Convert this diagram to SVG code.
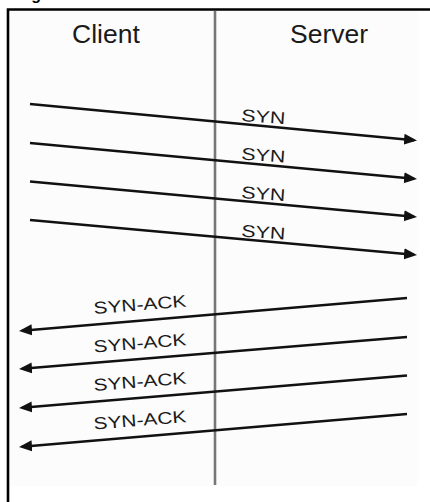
<svg xmlns="http://www.w3.org/2000/svg" width="430" height="502" viewBox="0 0 430 502">
  <style>
    .head { font-family: "Liberation Sans", Arial, sans-serif; font-size: 26.5px; fill: #1a1a1a; }
    .lbl { font-family: "Liberation Sans", Arial, sans-serif; font-size: 17px; fill: #1a1a1a; }
    .title { font-family: "Liberation Sans", Arial, sans-serif; font-size: 16px; font-weight: bold; fill: #000; }
    .msg { stroke: #111; stroke-width: 2.5; fill: none; }
  </style>
  <defs>
    <marker id="ah" markerUnits="userSpaceOnUse" markerWidth="14" markerHeight="12" refX="10" refY="6" orient="auto">
      <path d="M0,0.5 L13,6 L0,11.5 Z" fill="#111"/>
    </marker>
  </defs>
  <rect x="0" y="0" width="430" height="502" fill="#ffffff"/>
  <text class="title" x="17" y="-0.5">Figure</text>
  <rect x="10" y="11" width="408" height="475" fill="#fcfcfc"/>
  <path d="M8,502 V9.5 H430" fill="none" stroke="#000" stroke-width="2.6"/>
  <g id="client">
    <text class="head" x="72" y="43">Client</text>
  </g>
  <g id="server">
    <text class="head" x="290" y="43">Server</text>
  </g>
  <g id="timeline">
    <line x1="215" y1="11" x2="215" y2="485" stroke="#777" stroke-width="2.6"/>
  </g>
  <g id="connectors">
    <line class="msg" x1="30" y1="104" x2="414" y2="140.2" marker-end="url(#ah)"/>
    <line class="msg" x1="30" y1="143" x2="414" y2="178.7" marker-end="url(#ah)"/>
    <line class="msg" x1="30" y1="181.5" x2="414" y2="216.7" marker-end="url(#ah)"/>
    <line class="msg" x1="30" y1="220" x2="414" y2="254.7" marker-end="url(#ah)"/>
    <line class="msg" x1="407" y1="298" x2="22" y2="330.7" marker-end="url(#ah)"/>
    <line class="msg" x1="407" y1="337" x2="22" y2="368.7" marker-end="url(#ah)"/>
    <line class="msg" x1="407" y1="375.5" x2="22" y2="407.7" marker-end="url(#ah)"/>
    <line class="msg" x1="407" y1="414" x2="22" y2="446.7" marker-end="url(#ah)"/>
  </g>
  <g id="labels">
    <text class="lbl" x="241" y="121" textLength="44" lengthAdjust="spacingAndGlyphs" transform="rotate(4 241 121)">SYN</text>
    <text class="lbl" x="241" y="159.5" textLength="44" lengthAdjust="spacingAndGlyphs" transform="rotate(4 241 159.5)">SYN</text>
    <text class="lbl" x="241" y="198" textLength="44" lengthAdjust="spacingAndGlyphs" transform="rotate(4 241 198)">SYN</text>
    <text class="lbl" x="241" y="236.5" textLength="44" lengthAdjust="spacingAndGlyphs" transform="rotate(4 241 236.5)">SYN</text>
    <text class="lbl" x="94" y="314" textLength="93" lengthAdjust="spacingAndGlyphs" transform="rotate(-4.5 94 314)">SYN-ACK</text>
    <text class="lbl" x="94" y="352.5" textLength="93" lengthAdjust="spacingAndGlyphs" transform="rotate(-4.5 94 352.5)">SYN-ACK</text>
    <text class="lbl" x="94" y="391" textLength="93" lengthAdjust="spacingAndGlyphs" transform="rotate(-4.5 94 391)">SYN-ACK</text>
    <text class="lbl" x="94" y="429.5" textLength="93" lengthAdjust="spacingAndGlyphs" transform="rotate(-4.5 94 429.5)">SYN-ACK</text>
  </g>
</svg>
